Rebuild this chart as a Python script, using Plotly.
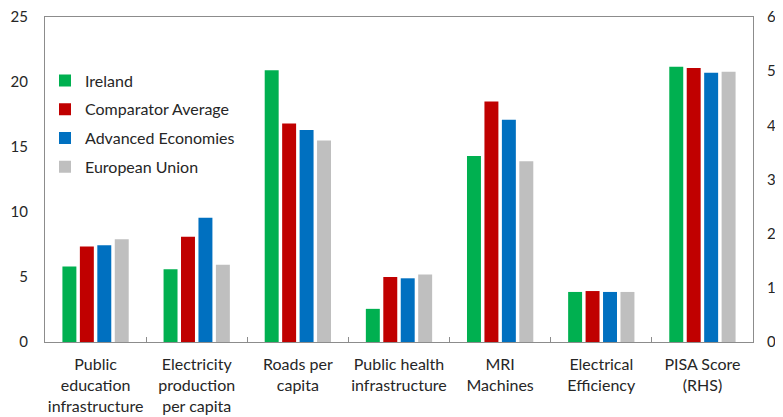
import plotly.graph_objects as go

categories = ["Public<br>education<br>infrastructure", "Electricity<br>production<br>per capita",
              "Roads per<br>capita", "Public health<br>infrastructure", "MRI<br>Machines",
              "Electrical<br>Efficiency", "PISA Score<br>(RHS)"]
series_names = ["Ireland", "Comparator Average", "Advanced Economies", "European Union"]
colors = ["#00B050", "#C00000", "#0070C0", "#BFBFBF"]

# Left-axis values (first six categories)
ireland_lhs = [5.8, 5.6, 20.9, 2.55, 14.3, 3.85]
comparator_lhs = [7.35, 8.1, 16.8, 5.0, 18.5, 3.92]
advanced_lhs = [7.45, 9.55, 16.3, 4.9, 17.1, 3.85]
eu_lhs = [7.9, 5.95, 15.5, 5.2, 13.9, 3.85]

# Right-axis values (PISA score)
pisa = [508, 506, 497, 499]

lhs = [ireland_lhs, comparator_lhs, advanced_lhs, eu_lhs]

font_family = "Lato, 'Open Sans', sans-serif"
fig = go.Figure()
for i, name in enumerate(series_names):
    fig.add_trace(go.Bar(
        x=categories[:6], y=lhs[i], name=name, marker=dict(color=colors[i], line=dict(width=0)),
        offsetgroup=str(i), alignmentgroup="g", legendgroup=name, yaxis="y", xaxis="x"))
for i, name in enumerate(series_names):
    fig.add_trace(go.Bar(
        x=[categories[6]], y=[pisa[i]], name=name, marker=dict(color=colors[i], line=dict(width=0)),
        offsetgroup=str(i), alignmentgroup="g", legendgroup=name, showlegend=False,
        yaxis="y2", xaxis="x"))

axis_color = "#8C8C8C"
txt = "#262626"
fig.update_layout(
    width=775, height=409,
    margin=dict(l=37, r=30, t=9, b=75),
    paper_bgcolor="white", plot_bgcolor="white",
    barmode="group", bargap=0.31, bargroupgap=0.2,
    font=dict(family=font_family, size=15, color=txt),
    showlegend=True,
    legend=dict(x=0.0, y=0.857, xanchor="left", yanchor="top", bgcolor="rgba(0,0,0,0)",
                font=dict(size=16, color=txt), tracegroupgap=5, itemwidth=30),
    xaxis=dict(categoryorder="array", categoryarray=categories, showline=True, linecolor=axis_color,
               linewidth=1, mirror=True, ticks="inside", tickson="boundaries", ticklen=5,
               tickcolor=axis_color, showgrid=False, tickangle=0, automargin=False,
               ticklabelstandoff=8, tickfont=dict(size=16, color=txt)),
    yaxis=dict(range=[0, 25], dtick=5, showline=True, linecolor=axis_color, linewidth=1,
               showgrid=False, ticks="", zeroline=False, tickfont=dict(size=15, color=txt),
               ticklabelstandoff=13, automargin=False, ticklabeloverflow="allow"),
    yaxis2=dict(range=[0, 600], dtick=100, overlaying="y", side="right", showline=True,
                linecolor=axis_color, linewidth=1, showgrid=False, ticks="", zeroline=False,
                tickfont=dict(size=15, color=txt), ticklabelstandoff=10, automargin=False,
                ticklabeloverflow="allow"),
)
fig.write_html("out.html")
